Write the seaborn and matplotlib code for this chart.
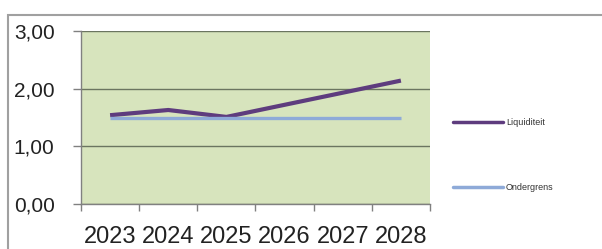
import matplotlib
matplotlib.use("Agg")
import matplotlib.pyplot as plt
import seaborn as sns
import pandas as pd
from matplotlib.patches import Rectangle
from matplotlib.ticker import FixedLocator

years = ["2023", "2024", "2025", "2026", "2027", "2028"]
liquiditeit = [1.54, 1.63, 1.51, 1.72, 1.93, 2.14]
ondergrens = [1.50, 1.50, 1.50, 1.50, 1.50, 1.50]
y_ticks = [0, 1, 2, 3]
y_labels = ["0,00", "1,00", "2,00", "3,00"]

sns.set_theme(style="white")
plt.rcParams['font.family'] = ['Liberation Sans', 'DejaVu Sans']

df = pd.DataFrame({"Jaar": years * 2,
                   "Waarde": liquiditeit + ondergrens,
                   "Reeks": ["Liquiditeit"] * 6 + ["Ondergrens"] * 6})

fig = plt.figure(figsize=(6.02, 2.49), dpi=100)
ax = fig.add_axes([81/602, 1-204/249, (430-81)/602, (204-31)/249])
ax.set_facecolor("#d7e4bd")

sns.lineplot(data=df, x="Jaar", y="Waarde", hue="Reeks", ax=ax,
             palette={"Liquiditeit": "#5e3c7e", "Ondergrens": "#8eaad8"},
             sort=False)
for line, lw in zip(ax.lines, [3.0, 2.4]):
    line.set_linewidth(lw)
    line.set_solid_capstyle("butt")

ax.set_xlim(-0.5, 5.5)
ax.set_ylim(0, 3)
ax.set_yticks(y_ticks)
ax.set_yticklabels(y_labels, fontsize=15, color="#222222")
ax.set_xticks(range(len(years)))
ax.set_xticklabels(years, fontsize=17, color="#222222")
ax.tick_params(axis="x", which="major", length=0, pad=16)
ax.xaxis.set_minor_locator(FixedLocator([i - 0.5 for i in range(len(years) + 1)]))
ax.tick_params(axis="x", which="minor", length=5, color="#808080", width=1, direction="out", bottom=True)
ax.tick_params(axis="y", length=6, color="#808080", width=1, direction="out", left=True, pad=13)
for y in y_ticks:
    ax.axhline(y, color="#6b7560", lw=1.0, zorder=0.5)
ax.grid(False)
ax.set_xlabel("")
ax.set_ylabel("")
for s in ["top", "right"]:
    ax.spines[s].set_visible(False)
for s in ["left", "bottom"]:
    ax.spines[s].set_color("#808080")
    ax.spines[s].set_linewidth(1.0)

leg = ax.legend(loc="center left", bbox_to_anchor=(448/602, 1-155/249),
                bbox_transform=fig.transFigure, frameon=False, fontsize=6.5,
                handlelength=5.6, handletextpad=0.3, labelspacing=6.2, borderpad=0)
for h in leg.get_lines():
    h.set_linewidth(2.5)
for t in leg.get_texts():
    t.set_color("#333333")

fig.patches.append(Rectangle((8/602, -0.1), 1.0, 1 - 15/249 + 0.1,
                             transform=fig.transFigure, fill=False,
                             edgecolor="#a0a0a0", linewidth=1.5))

fig.savefig("out.png", dpi=100)
